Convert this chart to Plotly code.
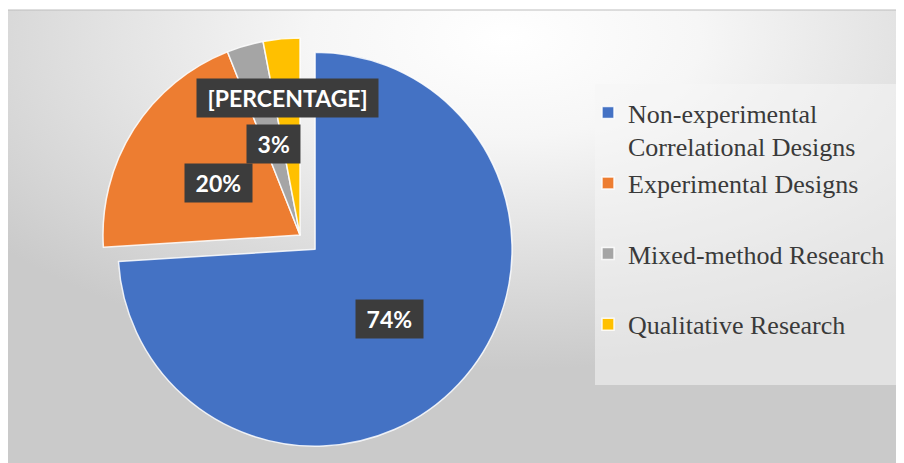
import math
import base64
import plotly.graph_objects as go

# ---- data ----
categories = ["Non-experimental Correlational Designs", "Experimental Designs",
              "Mixed-method Research", "Qualitative Research"]
legend_labels = ["Non-experimental<br>Correlational Designs", "Experimental Designs<br>\u00a0",
                 "Mixed-method Research<br>\u00a0", "Qualitative Research"]
values = [74, 20, 3, 3]
label_texts = ["74%", "20%", "3%", "[PERCENTAGE]"]
colors = ["#4472C4", "#ED7D31", "#A5A5A5", "#FFC000"]
pulls = [0.105, 0, 0, 0]

# ---- layout geometry (screen px; page body adds an 8px offset) ----
W, H = 904, 463
OFF = 8


def px_x(sx):
    return (sx - OFF) / W


def px_y(sy):
    return 1 - (sy - OFF) / H


CX, CY, R = 300, 235, 197          # pie centre / radius in screen px
half = R * (1 + max(pulls))
dom_x = [px_x(CX - half), px_x(CX + half)]
dom_y = [px_y(CY + half), px_y(CY - half)]
label_r = [0.52, 0.49, 0.48, 0.70]  # label distance (fraction of radius)

fig = go.Figure(go.Pie(
    labels=legend_labels, values=values, sort=False, direction="clockwise", rotation=0,
    pull=pulls, marker=dict(colors=colors, line=dict(color="rgba(255,255,255,0.85)", width=1.5)),
    textinfo="none", hoverinfo="skip", domain=dict(x=dom_x, y=dom_y),
))

# labels positioned from the slice angles
total = sum(values)
cum = 0
annotations = []
for v, txt, p, f in zip(values, label_texts, pulls, label_r):
    mid = math.radians((cum + v / 2) / total * 360)
    cum += v
    d = (p + f) * R
    sx = CX + d * math.sin(mid)
    sy = CY - d * math.cos(mid)
    annotations.append(dict(
        x=px_x(sx), y=px_y(sy), xref="paper", yref="paper", showarrow=False,
        xanchor="center", yanchor="middle",
        text="\u00a0" + txt + "\u00a0", bgcolor="#3c3c3c", borderpad=5,
        font=dict(family="Lato", size=23, color="white", weight="bold"),
    ))

# background gradient
svg = ('<svg xmlns="http://www.w3.org/2000/svg" width="900" height="453" viewBox="0 0 900 453" '
       'preserveAspectRatio="none"><defs><radialGradient id="g" cx="0.55" cy="0.06" r="0.72" '
       'fx="0.55" fy="0.06"><stop offset="0" stop-color="#ffffff"/><stop offset="0.3" stop-color="#f6f6f6"/>'
       '<stop offset="1" stop-color="#cacaca"/></radialGradient></defs>'
       '<rect width="900" height="453" fill="url(#g)"/></svg>')
src = "data:image/svg+xml;base64," + base64.b64encode(svg.encode()).decode()

fig.update_layout(
    width=W, height=H, margin=dict(l=0, r=0, t=0, b=0),
    paper_bgcolor="white", plot_bgcolor="rgba(0,0,0,0)",
    images=[dict(source=src, xref="paper", yref="paper", x=0, y=px_y(10),
                 sizex=1, sizey=px_y(10), xanchor="left", yanchor="top",
                 sizing="stretch", layer="below")],
    shapes=[dict(type="rect", xref="paper", yref="paper", x0=px_x(595), x1=px_x(900),
                 y0=px_y(385), y1=px_y(84), fillcolor="rgba(246,246,246,0.55)",
                 line=dict(width=0), layer="below"),
            dict(type="line", xref="paper", yref="paper", x0=0, x1=1, y0=px_y(10), y1=px_y(10),
                 line=dict(color="#bdbdbd", width=1))],
    legend=dict(x=px_x(588), y=px_y(89), xanchor="left", yanchor="top", valign="top",
                bgcolor="rgba(0,0,0,0)", font=dict(family="Liberation Serif", size=26, color="#3a3a3a")),
    annotations=annotations,
    showlegend=True,
)

fig.write_html("out.html")
